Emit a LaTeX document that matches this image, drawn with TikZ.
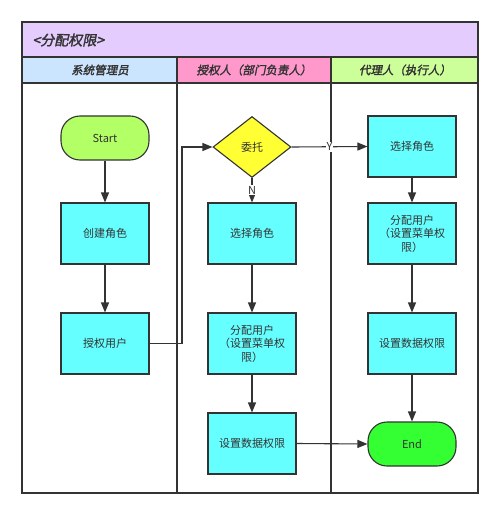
\documentclass[tikz,border=0pt]{standalone}
\usepackage{fontspec}
\setmainfont{Noto Sans CJK SC}
\newfontfamily\cjkit[FakeSlant=0.2,FakeBold=2]{Noto Sans CJK SC}
\usetikzlibrary{shapes.geometric,arrows.meta}
\definecolor{ink}{HTML}{333333}
\definecolor{lav}{HTML}{E5CCFF}
\definecolor{lblue}{HTML}{CCE5FF}
\definecolor{lpink}{HTML}{FF99CC}
\definecolor{lgreen}{HTML}{CCFF99}
\definecolor{cyanbox}{HTML}{66FFFF}
\definecolor{startc}{HTML}{B3FF66}
\definecolor{endc}{HTML}{33FF33}
\definecolor{yel}{HTML}{FFFF33}
\tikzset{
  frame/.style={draw=ink,line width=1.3pt},
  box/.style={draw=ink,line width=1.1pt,fill=cyanbox,minimum width=88pt,minimum height=61pt,inner sep=2pt,align=center,font=\fontsize{11}{13.5}\selectfont,text=ink},
  term/.style={draw=ink,line width=1.1pt,minimum width=88pt,minimum height=44pt,rounded corners=19pt,font=\fontsize{11}{13.5}\selectfont,text=ink},
  dec/.style={draw=ink,line width=1.1pt,fill=yel,shape=diamond,minimum width=78pt,minimum height=61pt,inner sep=0pt,font=\fontsize{11}{13.5}\selectfont,text=ink},
  arr/.style={draw=ink,line width=1.1pt,-{Triangle[length=10pt,width=8pt]}},
  hdr/.style={font=\cjkit\fontsize{11.5}{13}\selectfont,text=ink},
  lbl/.style={fill=white,inner sep=1pt,font=\fontsize{11}{13}\selectfont,text=ink}
}
\begin{document}
\begin{tikzpicture}[x=1pt,y=-1pt]
\useasboundingbox (0,0) rectangle (500,516);
\fill[white] (0,0) rectangle (500,516);
% title band and lane headers
\fill[lav] (22,22) rectangle (478,57);
\fill[lblue] (22,57) rectangle (177,83);
\fill[lpink] (177,57) rectangle (331,83);
\fill[lgreen] (331,57) rectangle (478,83);
\draw[frame] (22,22) rectangle (478,493);
\draw[frame] (22,57) -- (478,57);
\draw[frame] (22,83) -- (478,83);
\draw[frame] (177,57) -- (177,493);
\draw[frame] (331,57) -- (331,493);
\node[anchor=west,font=\cjkit\fontsize{14}{16}\selectfont,text=ink] (title) at (29,40) {<分配权限>};
\node[hdr] (h1) at (100,70) {系统管理员};
\node[hdr] (h2) at (254,70) {授权人（部门负责人）};
\node[hdr] (h3) at (405,70) {代理人（执行人）};
% lane 1
\node[term,fill=startc] (start) at (105,138) {Start};
\node[box] (a1) at (105,233.5) {创建角色};
\node[box] (a2) at (105,343.5) {授权用户};
% lane 2
\node[dec] (d) at (252,147) {委托};
\node[box] (b1) at (252,233.5) {选择角色};
\node[box] (b2) at (252,343.5) {分配用户\\（设置菜单权\\限）};
\node[box] (b3) at (252,443.5) {设置数据权限};
% lane 3
\node[box] (c1) at (412,146.5) {选择角色};
\node[box] (c2) at (412,233.5) {分配用户\\（设置菜单权\\限）};
\node[box] (c3) at (412,343.5) {设置数据权限};
\node[term,fill=endc] (end) at (412,444) {End};
% connectors
\coordinate (k) at (182,0);
\draw[arr] (start) -- (a1);
\draw[arr] (a1) -- (a2);
\draw[arr] (a2.east) -- (a2.east -| k) |- (d.west);
\draw[arr] (d.east) -- node[lbl] (ly) {Y} (c1.west);
\draw[arr] (d.south) -- node[lbl] (ln) {N} (b1.north);
\draw[arr] (b1) -- (b2);
\draw[arr] (b2) -- (b3);
\draw[arr] (c1) -- (c2);
\draw[arr] (c2) -- (c3);
\draw[arr] (c3) -- (end);
\draw[arr] (b3.east) -- (end.west);
\end{tikzpicture}
\end{document}
